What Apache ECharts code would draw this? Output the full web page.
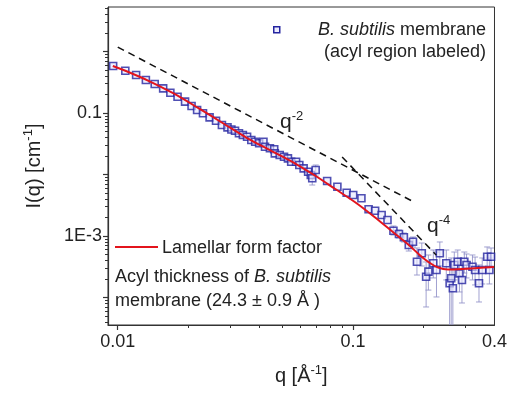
<!DOCTYPE html>
<html><head><meta charset="utf-8">
<script src="https://cdn.jsdelivr.net/npm/echarts@6/dist/echarts.min.js"></script>
<style>html,body{margin:0;padding:0;background:#fff}#c{width:510px;height:394px}</style>
</head><body><div id="c"></div>
<script>
// ---- data ----
const qData = [0.00956, 0.01077, 0.01197, 0.01317, 0.01436, 0.01560, 0.01674, 0.01796, 0.01933, 0.02060,
  0.02175, 0.02304, 0.02458, 0.02618, 0.02773, 0.02929, 0.03043, 0.03153, 0.03277, 0.03405,
  0.03548, 0.03698, 0.03842, 0.03993, 0.04165, 0.04229, 0.04437, 0.04628, 0.04655, 0.04884,
  0.05094, 0.05294, 0.05464, 0.05733, 0.05917, 0.06173, 0.06451, 0.06620, 0.06716, 0.06946,
  0.0777, 0.0859, 0.0941, 0.1003, 0.1087, 0.1166, 0.1243, 0.1325, 0.1403, 0.1487,
  0.1570, 0.1647, 0.1728, 0.1801, 0.1872, 0.1963, 0.2048, 0.2094, 0.2197, 0.2267,
  0.2342, 0.2495, 0.2578, 0.2618, 0.2661, 0.2699, 0.2792, 0.2838, 0.2909, 0.2977,
  0.3043, 0.3224, 0.3308, 0.3437, 0.3548, 0.3723, 0.3806, 0.3868];
const iData = [0.581, 0.487, 0.415, 0.344, 0.296, 0.252, 0.214, 0.184, 0.153, 0.130,
  0.112, 0.0989, 0.0851, 0.0749, 0.0638, 0.0585, 0.0539, 0.0516, 0.0468, 0.0439,
  0.0412, 0.0364, 0.0341, 0.0322, 0.0341, 0.0283, 0.0267, 0.0257, 0.0221, 0.0208,
  0.0195, 0.0183, 0.0161, 0.0161, 0.0143, 0.0126, 0.0111, 0.00981, 0.00868, 0.01183,
  0.00784, 0.00633, 0.00506, 0.00464, 0.00410, 0.00272, 0.00258, 0.00220, 0.00182, 0.00122,
  0.00108, 0.000953, 0.000714, 0.000808, 0.000382, 0.000523, 0.000218, 0.000263, 0.000360, 0.000280,
  0.000523, 0.000360, 0.000170, 0.000205, 0.000141, 0.000338, 0.000382, 0.000247, 0.000193, 0.000382,
  0.000338, 0.000317, 0.000280, 0.000170, 0.000280, 0.000461, 0.000280, 0.000461];
const errHigh = [null,null,null,null,null,null,null,null,null,null,
  null,null,null,null,null,null,null,null,null,null,
  null,null,null,null,null,null,null,null,null,null,
  null,null,null,null,null,null,null,null,0.01098,0.01427,
  null,null,null,null,null,null,null,null,null,0.001454,
  0.001252, 0.001119, 0.000861, 0.000963, 0.000638, 0.000769, 0.000378, 0.000491, 0.000592, 0.000549,
  0.000799, 0.000592, 0.000378, 0.000439, 0.000338, 0.000549, 0.000592, 0.000439, 0.000378, 0.000549,
  0.000510, 0.000491, 0.000455, 0.000338, 0.000439, 0.000663, 0.000439, 0.000638];
const errLow = [null,null,null,null,null,null,null,null,null,null,
  null,null,null,null,null,null,null,null,null,null,
  null,null,null,null,null,null,null,null,null,null,
  null,null,null,null,null,null,null,null,0.00675,0.00945,
  null,null,null,null,null,null,null,null,null,0.001038,
  0.000928, 0.000799, 0.000570, 0.000663, 0.000232, 0.000325, 0.0000701, 0.000132, 0.000208, 0.000102,
  0.000325, 0.000193, 0.0000204, 0.0000296, 0.0000204, 0.000193, 0.000224, 0.000123, 0.0000814, 0.000250,
  0.000208, 0.000193, 0.000160, 0.0000845, 0.000166, 0.000302, 0.000166, 0.000313];
const fitQ = [0.00953, 0.01122, 0.01359, 0.01728, 0.02196, 0.02792, 0.03548, 0.04510, 0.05733, 0.06946,
  0.08414, 0.1019, 0.1235, 0.1496, 0.1728, 0.1902, 0.2094, 0.2304, 0.2536, 0.2929, 0.3382, 0.3981];
const fitI = [0.581, 0.456, 0.331, 0.208, 0.121, 0.0688, 0.0392, 0.0241, 0.0148, 0.00945,
  0.00581, 0.00357, 0.00204, 0.00112, 0.000714, 0.000510, 0.000378, 0.000307, 0.000285, 0.000291, 0.000302, 0.000313];
const slope2Q = [0.01, 0.182];
const slope2I = [1.18, 0.00356];
const slope4Q = [0.090, 0.226];
const slope4I = [0.0193, 0.00049];
const xLabelValues = [0.01, 0.1, 0.4];
const yLabelValues = [0.001, 0.1];
const xMajorTicks = [0.01, 0.1];
const yMajorTicks = [0.0001, 0.001, 0.01, 0.1, 1];
const xMinorTicks = [0.02, 0.03, 0.04, 0.05, 0.06, 0.07, 0.08, 0.09, 0.2, 0.3];
const yMinorTicks = [];
[1e-5, 1e-4, 1e-3, 1e-2, 1e-1, 1].forEach(d => { for (let k = 2; k <= 9; k++) { const v = +(d * k).toPrecision(3); if (v > 3.6e-5 && v < 5.3) yMinorTicks.push(v); } });

const FONT = '"Liberation Sans", Arial, sans-serif';
const AX = '#333';
const xMin = 0.00909, xMax = 0.4, yMin = 3.57e-5, yMax = 5.3;

function fmt(v) {
  if (Math.abs(v - 0.001) < 1e-12) return '1E-3';
  return String(+v.toPrecision(3));
}

const chart = echarts.init(document.getElementById('c'), null, { renderer: 'canvas' });

const scatterData = qData.map((q, i) => [q, iData[i]]);
const errData = [];
qData.forEach((q, i) => { if (errHigh[i] != null) errData.push([q, errLow[i], errHigh[i]]); });
const fitData = fitQ.map((q, i) => [q, fitI[i]]);

const baseAxis = {
  type: 'log', logBase: 10,
  splitLine: { show: false },
};

chart.setOption({
  backgroundColor: '#fff',
  animation: false,
  grid: { left: 108, right: 7, top: 7, bottom: 69, show: true, borderColor: AX, borderWidth: 1, containLabel: false },
  xAxis: [
    Object.assign({}, baseAxis, {
      min: xMin, max: xMax, position: 'bottom',
      axisLine: { show: true, lineStyle: { color: AX, width: 1.2 } },
      axisTick: { show: true, inside: false, length: 5, customValues: xMajorTicks, lineStyle: { color: AX, width: 1.2 } },
      axisLabel: { customValues: xLabelValues, formatter: fmt, fontSize: 18, color: '#222', fontFamily: FONT, margin: 8 },
      name: '{a|q [Å}{s|-1}{a|]}', nameLocation: 'middle', nameGap: 39,
      nameTextStyle: { rich: { a: { fontSize: 20, fontFamily: FONT, color: '#222', lineHeight: 24 }, s: { fontSize: 13, fontFamily: FONT, color: '#222', verticalAlign: 'top', lineHeight: 14 } } }
    }),
    Object.assign({}, baseAxis, {
      min: xMin, max: xMax, position: 'bottom',
      axisLine: { show: false },
      axisTick: { show: true, inside: false, length: 3, customValues: xMinorTicks, lineStyle: { color: AX, width: 1 } },
      axisLabel: { show: false }
    })
  ],
  yAxis: [
    Object.assign({}, baseAxis, {
      min: yMin, max: yMax, position: 'left',
      axisLine: { show: true, lineStyle: { color: AX, width: 1.2 } },
      axisTick: { show: true, inside: false, length: 5, customValues: yMajorTicks, lineStyle: { color: AX, width: 1.2 } },
      axisLabel: { customValues: yLabelValues, formatter: fmt, fontSize: 18, color: '#222', fontFamily: FONT, margin: 6 },
      name: '{a|I(q) [cm}{s|-1}{a|]}', nameLocation: 'middle', nameGap: 62,
      nameTextStyle: { rich: { a: { fontSize: 20, fontFamily: FONT, color: '#222', lineHeight: 24 }, s: { fontSize: 13, fontFamily: FONT, color: '#222', verticalAlign: 'top', lineHeight: 14 } } }
    }),
    Object.assign({}, baseAxis, {
      min: yMin, max: yMax, position: 'left',
      axisLine: { show: false },
      axisTick: { show: true, inside: false, length: 3, customValues: yMinorTicks, lineStyle: { color: AX, width: 1 } },
      axisLabel: { show: false }
    })
  ],
  series: [
    {
      name: 'error', type: 'custom', xAxisIndex: 0, yAxisIndex: 0, clip: true, z: 2,
      data: errData, encode: { x: 0, y: [1, 2] },
      renderItem: function (params, api) {
        const x = api.value(0), lo = api.value(1), hi = api.value(2);
        const pHi = api.coord([x, hi]), pLo = api.coord([x, lo]);
        const w = 3;
        const style = { stroke: '#9090c8', lineWidth: 1, opacity: 0.85 };
        return { type: 'group', children: [
          { type: 'line', shape: { x1: pHi[0], y1: pHi[1], x2: pLo[0], y2: pLo[1] }, style: style },
          { type: 'line', shape: { x1: pHi[0] - w, y1: pHi[1], x2: pHi[0] + w, y2: pHi[1] }, style: style },
          { type: 'line', shape: { x1: pLo[0] - w, y1: pLo[1], x2: pLo[0] + w, y2: pLo[1] }, style: style }
        ] };
      }
    },
    {
      name: 'B. subtilis membrane', type: 'scatter', xAxisIndex: 0, yAxisIndex: 0, z: 3,
      data: scatterData, symbol: 'rect', symbolSize: 7,
      itemStyle: { color: 'rgba(230,230,255,0.75)', borderColor: '#2424a0', borderWidth: 1.6 }
    },
    {
      name: 'q-2', type: 'line', xAxisIndex: 0, yAxisIndex: 0, z: 4, symbol: 'none',
      data: slope2Q.map((q, i) => [q, slope2I[i]]),
      lineStyle: { color: '#111', width: 1.5, type: [7, 5] }
    },
    {
      name: 'q-4', type: 'line', xAxisIndex: 0, yAxisIndex: 0, z: 4, symbol: 'none',
      data: slope4Q.map((q, i) => [q, slope4I[i]]),
      lineStyle: { color: '#111', width: 1.5, type: [7, 5] }
    },
    {
      name: 'Lamellar form factor', type: 'line', xAxisIndex: 0, yAxisIndex: 0, z: 5, symbol: 'none',
      smooth: 0.3, data: fitData,
      lineStyle: { color: '#e3141c', width: 2 }
    }
  ],
  graphic: [
    { type: 'rect', left: 273, top: 26, shape: { width: 6, height: 6 }, style: { fill: 'rgba(230,230,255,0.75)', stroke: '#2424a0', lineWidth: 1.5 }, z: 10 },
    { type: 'text', x: 486, y: 30, z: 10, style: { text: '{i|B. subtilis}{n| membrane}', align: 'right', verticalAlign: 'middle',
        rich: { i: { fontSize: 18, fontStyle: 'italic', fontFamily: FONT, fill: '#222' }, n: { fontSize: 18, fontFamily: FONT, fill: '#222' } } } },
    { type: 'text', x: 486, y: 52, z: 10, style: { text: '(acyl region labeled)', align: 'right', verticalAlign: 'middle', fontSize: 18, fontFamily: FONT, fill: '#222' } },
    { type: 'line', z: 10, shape: { x1: 115, y1: 247, x2: 158, y2: 247 }, style: { stroke: '#e3141c', lineWidth: 2 } },
    { type: 'text', x: 162, y: 248, z: 10, style: { text: 'Lamellar form factor', align: 'left', verticalAlign: 'middle', fontSize: 18, fontFamily: FONT, fill: '#222' } },
    { type: 'text', x: 115, y: 277, z: 10, style: { text: '{n|Acyl thickness of }{i|B. subtilis}', align: 'left', verticalAlign: 'middle',
        rich: { i: { fontSize: 18, fontStyle: 'italic', fontFamily: FONT, fill: '#222' }, n: { fontSize: 18, fontFamily: FONT, fill: '#222' } } } },
    { type: 'text', x: 115, y: 301, z: 10, style: { text: 'membrane (24.3 ± 0.9 Å )', align: 'left', verticalAlign: 'middle', fontSize: 18, fontFamily: FONT, fill: '#222' } },
    { type: 'text', x: 280, y: 122, z: 10, style: { text: '{a|q}{s|-2}', align: 'left', verticalAlign: 'middle',
        rich: { a: { fontSize: 21, fontFamily: FONT, fill: '#222', lineHeight: 24 }, s: { fontSize: 13, fontFamily: FONT, fill: '#222', verticalAlign: 'top', lineHeight: 14 } } } },
    { type: 'text', x: 427, y: 226, z: 10, style: { text: '{a|q}{s|-4}', align: 'left', verticalAlign: 'middle',
        rich: { a: { fontSize: 21, fontFamily: FONT, fill: '#222', lineHeight: 24 }, s: { fontSize: 13, fontFamily: FONT, fill: '#222', verticalAlign: 'top', lineHeight: 14 } } } }
  ]
});
</script>
</body></html>
